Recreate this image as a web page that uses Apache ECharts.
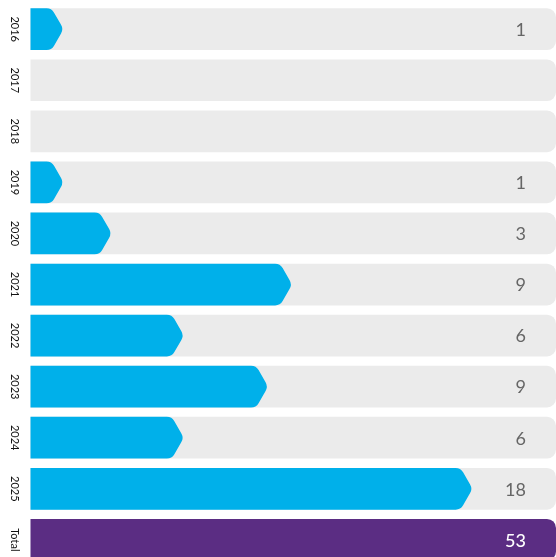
<!DOCTYPE html>
<html>
<head>
<meta charset="utf-8">
<style>
  html, body { margin: 0; padding: 0; background: #ffffff; overflow: hidden; width: 556px; height: 557px; }
  #chart { width: 556px; height: 566px; }
</style>
<script src="https://cdn.jsdelivr.net/npm/echarts@6/dist/echarts.min.js"></script>
</head>
<body>
<div id="chart"></div>
<script>
// ---- data ----
const categories = ['2016', '2017', '2018', '2019', '2020', '2021', '2022', '2023', '2024', '2025', 'Total'];
// value labels shown at the right of each row
const countLabels = [1, 0, 0, 1, 3, 9, 6, 9, 6, 18, 53];
// bar lengths as drawn in the picture (value units)
const barLengths = [1, 0, 0, 1, 3, 10.5, 6, 9.5, 6, 18, null];
const totalIndex = 10;

const BLUE = '#00b0ea';
const TRACK = '#ebebeb';
const PURPLE = '#5b2d83';

const chart = echarts.init(document.getElementById('chart'), null, { renderer: 'canvas' });

function chevronPath(x0, t, b, xt) {
  const m = (t + b) / 2;
  const half = (b - t) / 2;
  const dx = 12;
  const xb = xt - dx;
  const len = Math.sqrt(dx * dx + half * half);
  const ux = dx / len, uy = half / len;
  const r = 5;
  return [
    'M', x0, t,
    'L', xb - r, t,
    'Q', xb, t, xb + ux * r, t + uy * r,
    'L', xt - ux * r, m - uy * r,
    'Q', xt, m, xt - ux * r, m + uy * r,
    'L', xb + ux * r, b - uy * r,
    'Q', xb, b, xb - r, b,
    'L', x0, b, 'Z'
  ].join(' ');
}

const rowData = categories.map((c, i) => [i, barLengths[i] == null ? 0 : barLengths[i], countLabels[i]]);

chart.setOption({
  animation: false,
  grid: { left: 30.5, right: 0, top: 3.67, bottom: 0.63, containLabel: false },
  xAxis: {
    type: 'value', min: 0, max: 21.84,
    show: false
  },
  yAxis: {
    type: 'category',
    data: categories,
    inverse: true,
    axisLine: { show: false },
    axisTick: { show: false },
    axisLabel: {
      rotate: -90,
      margin: 10,
      color: '#111111',
      fontSize: 11,
      fontFamily: 'Lato, "Noto Sans", sans-serif'
    }
  },
  series: [{
    type: 'custom',
    clip: false,
    data: rowData,
    encode: { x: 1, y: 0 },
    renderItem: function (params, api) {
      const idx = api.value(0);
      const len = api.value(1);
      const label = api.value(2);
      const center = api.coord([0, idx]);
      const band = api.size([0, 1])[1];
      const h = band * 0.817;
      const t = center[1] - h / 2;
      const b = center[1] + h / 2;
      const x0 = center[0];
      const xr = params.coordSys.x + params.coordSys.width;
      const children = [];
      const isTotal = idx === totalIndex;
      children.push({
        type: 'rect',
        shape: { x: x0, y: t, width: xr - x0, height: h, r: [0, 9, 9, 0] },
        style: { fill: isTotal ? PURPLE : TRACK }
      });
      if (!isTotal && len > 0) {
        const xt = api.coord([len, idx])[0] + 9;
        children.push({
          type: 'path',
          shape: { pathData: chevronPath(x0, t, b, xt) },
          style: { fill: BLUE }
        });
      }
      if (label > 0) {
        children.push({
          type: 'text',
          style: {
            x: 526, y: center[1] + 1,
            text: String(label),
            align: 'right', verticalAlign: 'middle',
            fill: isTotal ? '#ffffff' : '#666666',
            fontSize: 18,
            fontWeight: isTotal ? 500 : 400,
            fontFamily: 'Lato, "Noto Sans", sans-serif'
          }
        });
      }
      return { type: 'group', children: children };
    }
  }]
});
</script>
</body>
</html>
